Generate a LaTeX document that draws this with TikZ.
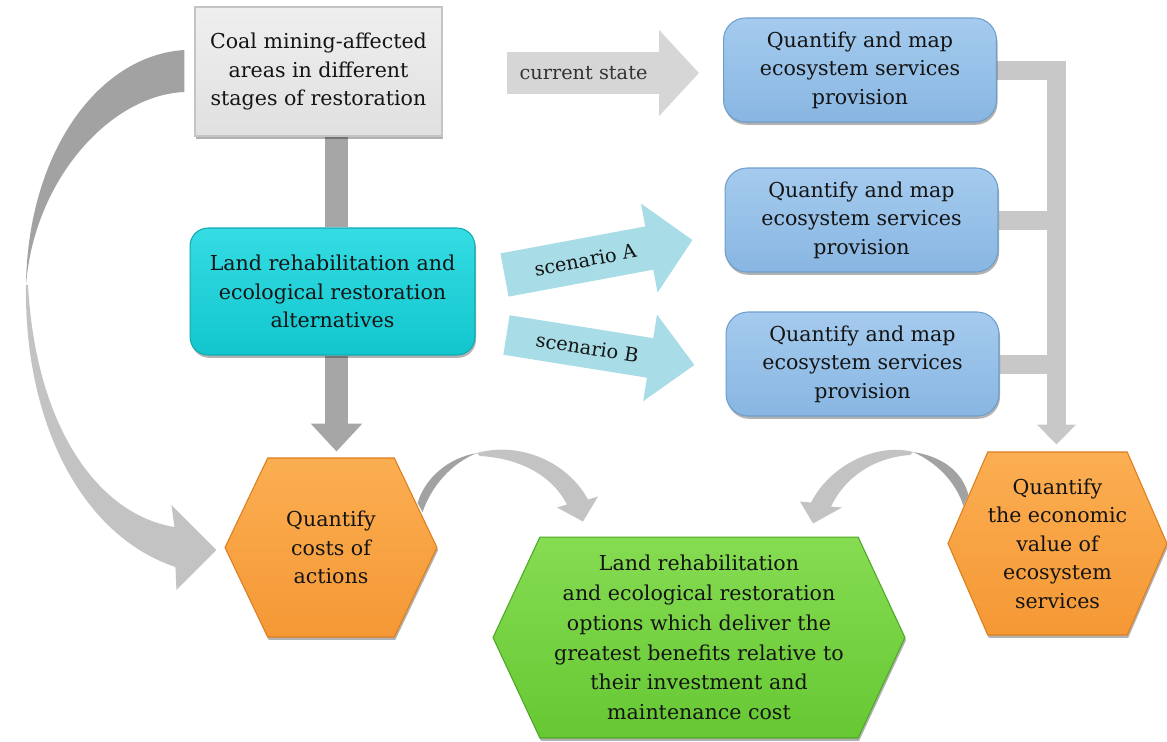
\documentclass[tikz,border=0pt]{standalone}
\usepackage{fontspec}
\setmainfont{DejaVu Serif}
\usetikzlibrary{positioning,calc,arrows.meta,shapes.symbols,shadows,backgrounds}

\definecolor{txt}{HTML}{141414}
\definecolor{statetxt}{HTML}{333333}
\definecolor{greytop}{HTML}{EFEFEF}
\definecolor{greybot}{HTML}{E0E0E0}
\definecolor{greyline}{HTML}{C4C4C4}
\definecolor{bluetop}{HTML}{A5CBEE}
\definecolor{bluebot}{HTML}{88B6E2}
\definecolor{blueline}{HTML}{6E9ECB}
\definecolor{cyantop}{HTML}{35DCE3}
\definecolor{cyanbot}{HTML}{12C6CE}
\definecolor{cyanline}{HTML}{12A9B1}
\definecolor{orangetop}{HTML}{FBAE52}
\definecolor{orangebot}{HTML}{F59835}
\definecolor{orangeline}{HTML}{DD7E1E}
\definecolor{greentop}{HTML}{86DC52}
\definecolor{greenbot}{HTML}{66C833}
\definecolor{greenline}{HTML}{4DA826}
\definecolor{bardark}{HTML}{A6A6A6}
\definecolor{barlight}{HTML}{C8C8C8}
\definecolor{statefill}{HTML}{D6D6D6}
\definecolor{scenfill}{HTML}{A8DCE7}
\definecolor{arcdark}{HTML}{A2A2A2}
\definecolor{arclight}{HTML}{C3C3C3}

\tikzset{
  lbl/.style={font=\fontsize{11.7}{16.2}\selectfont, text=txt, align=center},
  arrowlbl/.style={font=\fontsize{11}{13}\selectfont, text=txt},
  box/.style={lbl, inner sep=0pt, line width=0.6pt,
    drop shadow={shadow xshift=0.6pt, shadow yshift=-1.6pt, opacity=0.3, fill=black}},
  greybox/.style={box, rectangle, draw=greyline, top color=greytop, bottom color=greybot,
    minimum width=4.94cm, minimum height=2.58cm},
  cyanbox/.style={box, rounded corners=0.36cm, draw=cyanline, top color=cyantop, bottom color=cyanbot,
    minimum width=5.7cm, minimum height=2.54cm},
  bluebox/.style={box, rounded corners=0.44cm, draw=blueline, top color=bluetop, bottom color=bluebot,
    minimum width=5.46cm, minimum height=2.08cm},
  hexbox/.style={box, signal, signal to=east and west, draw=orangeline, top color=orangetop, bottom color=orangebot},
  greenhex/.style={box, signal, signal to=east and west, draw=greenline, top color=greentop, bottom color=greenbot},
  bar/.style={draw=bardark, line width=0.46cm},
  bracket/.style={draw=barlight, line width=0.38cm},
}

\begin{document}
\begin{tikzpicture}[x=0.02cm, y=-0.02cm]
\useasboundingbox (0,0) rectangle (1167,741);

% boxes
\node[greybox] (coal) at (318.5,71.5) {Coal mining-affected\\areas in different\\stages of restoration};
\node[cyanbox] (alt) at (332.5,291.5) {Land rehabilitation and\\ecological restoration\\alternatives};
\node[bluebox] (q1) at (860,70) {Quantify and map\\ecosystem services\\provision};
\node[bluebox] (q2) at (861.5,220) {Quantify and map\\ecosystem services\\provision};
\node[bluebox] (q3) at (862.5,364) {Quantify and map\\ecosystem services\\provision};
\node[hexbox, minimum width=4.24cm, minimum height=3.58cm, signal pointer angle=129] (costs) at (331,547.5) {Quantify\\costs of\\actions};
\node[greenhex, minimum width=8.24cm, minimum height=4.02cm, signal pointer angle=130, font=\fontsize{11.7}{17}\selectfont] (best) at (699,637.5)
  {Land rehabilitation\\and ecological restoration\\options which deliver the\\greatest benefits relative to\\their investment and\\maintenance cost};
\node[hexbox, minimum width=4.3cm, minimum height=3.66cm, signal pointer angle=133] (econ) at (1057.5,543.5) {Quantify\\the economic\\value of\\ecosystem\\services};

\begin{scope}[on background layer]
% straight bars
\draw[bar] ($(alt.north)+(4,0)$) -- ($(alt.north |- coal.south)+(4,0)$);
\draw[bar, -{Triangle[width=1cm,length=0.56cm]}] ($(alt.south)+(4,0)$) -- ($(alt.south |- costs.north)+(4,-6)$);

% current state
\draw[draw=statefill, line width=0.84cm, -{Triangle[width=1.68cm,length=0.8cm]}]
  ($(coal.east)+(64,1.5)$) -- node[pos=0.4, arrowlbl, text=statetxt] {current state} ($(coal.east -| q1.west)+(-24,1.5)$);

% scenarios
\draw[draw=scenfill, line width=0.88cm, -{Triangle[width=1.76cm,length=0.88cm]}]
  ($(alt.east)+(29,-16.5)$) -- node[pos=0.43, sloped, arrowlbl] {scenario A} ($(q2.west)+(-32,20)$);
\draw[draw=scenfill, line width=0.8cm, -{Triangle[width=1.7cm,length=0.9cm]}]
  ($(alt.east)+(31,43.5)$) -- node[pos=0.43, sloped, arrowlbl] {scenario B} ($(q3.west)+(-31,1)$);

% bracket to economic value
\coordinate (bx) at ($(q1.east)+(59.5,0)$);
\draw[bracket] (q1.east) -- ($(bx)+(9.5,0)$);
\draw[bracket] (q2.east) -- (q2.east -| bx);
\draw[bracket] (q3.east) -- (q3.east -| bx);
\draw[bracket, -{Triangle[width=0.76cm,length=0.4cm]}] ($(bx)+(0,-9.5)$) -- ($(bx |- econ.north)+(0,-7)$);
\end{scope}

% big arc: coal -> costs
\coordinate (arcA) at ($(coal.west)+(-10,-21.5)$);
\coordinate (arcB) at ($(coal.west)+(-10,20.5)$);
\coordinate (arcUp) at ($(costs.west)+(-50,-20.5)$);
\coordinate (arcLo) at ($(costs.west)+(-49,19.5)$);
\coordinate (arcWingUp) at ($(costs.west)+(-53,-42.5)$);
\coordinate (arcWingLo) at ($(costs.west)+(-48,42.5)$);
\coordinate (arcTip) at ($(costs.west)+(-8,2.5)$);
\fill[arcdark] (arcA) .. controls (100,55) and (28,150) .. (26,285)
  .. controls (34,180) and (110,95) .. (arcB) -- cycle;
\fill[arclight] (26,285) .. controls (24,420) and (80,535) .. (arcLo) -- (arcWingLo) -- (arcTip)
  -- (arcWingUp) -- (arcUp) .. controls (100,515) and (36,430) .. (28,285) -- cycle;

% costs -> best
\coordinate (cA) at ($(costs.east)+(-20,-44.5)$);
\coordinate (cB) at ($(costs.east)+(-15,-35.5)$);
\coordinate (cUp) at ($(best.north)+(-111,-37)$);
\coordinate (cLo) at ($(best.north)+(-132,-32)$);
\coordinate (cWingUp) at ($(best.north)+(-101,-40)$);
\coordinate (cWingLo) at ($(best.north)+(-142,-29)$);
\coordinate (cTip) at ($(best.north)+(-116,-15)$);
\fill[arcdark] (cA) .. controls (425,478) and (448,458) .. (477,453)
  .. controls (452,463) and (432,485) .. (cB) -- cycle;
\fill[arclight] (477,453) .. controls (515,442) and (565,458) .. (cUp) -- (cWingUp) -- (cTip)
  -- (cWingLo) -- (cLo) .. controls (550,472) and (515,458) .. (480,456) -- cycle;

% econ -> best
\coordinate (eA) at ($(econ.west)+(21,-48.5)$);
\coordinate (eB) at ($(econ.west)+(16,-37.5)$);
\coordinate (eUp) at ($(best.north)+(112,-34)$);
\coordinate (eLo) at ($(best.north)+(132,-30)$);
\coordinate (eWingUp) at ($(best.north)+(101,-35)$);
\coordinate (eWingLo) at ($(best.north)+(143,-29)$);
\coordinate (eTip) at ($(best.north)+(114,-13)$);
\fill[arcdark] (eA) .. controls (962,470) and (940,456) .. (913,452)
  .. controls (936,462) and (956,482) .. (eB) -- cycle;
\fill[arclight] (913,452) .. controls (880,443) and (832,462) .. (eUp) -- (eWingUp) -- (eTip)
  -- (eWingLo) -- (eLo) .. controls (848,472) and (880,457) .. (910,455) -- cycle;
\end{tikzpicture}
\end{document}
